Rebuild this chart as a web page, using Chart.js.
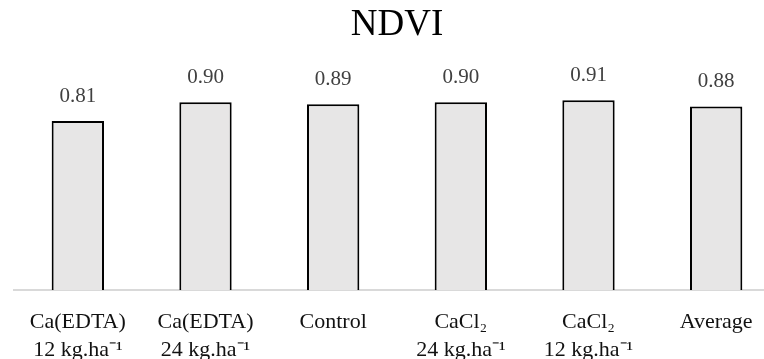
<!DOCTYPE html>
<html>
<head>
<meta charset="utf-8">
<script src="https://cdn.jsdelivr.net/npm/chart.js@4/dist/chart.umd.min.js"></script>
<style>
    html, body { margin: 0; padding: 0; background: #fff; overflow: hidden; }
    #wrap { width: 764px; height: 359px; overflow: hidden; }
    canvas { display: block; }
</style>
</head>
<body>
<div id="wrap">
    <canvas id="ndviChart" width="794" height="382"></canvas>
</div>
<script>
// chart data
const chartTitle = 'NDVI';
const categories = [
    ['Ca(EDTA)', '12 kg.ha\u207B\u00B9'],
    ['Ca(EDTA)', '24 kg.ha\u207B\u00B9'],
    'Control',
    ['CaCl\u2082', '24 kg.ha\u207B\u00B9'],
    ['CaCl\u2082', '12 kg.ha\u207B\u00B9'],
    'Average'
];
const ndviValues = [0.81, 0.90, 0.89, 0.90, 0.91, 0.88];
const yRange = [0, 1];

const serif = "'Liberation Serif', 'Times New Roman', serif";

// draws the value above each bar
const valueLabels = {
    id: 'valueLabels',
    afterDatasetsDraw: function( chart ) {
        const ctx = chart.ctx;
        const meta = chart.getDatasetMeta(0);
        const values = chart.data.datasets[0].data;

        ctx.save();
        ctx.font = '21px ' + serif;
        ctx.fillStyle = '#404040';
        ctx.textAlign = 'center';
        ctx.textBaseline = 'alphabetic';
        meta.data.forEach( function( bar, i ) {
            ctx.fillText( values[i].toFixed(2), bar.x, bar.y - 19 );
        });
        ctx.restore();
    }
};

const ctx = document.getElementById('ndviChart').getContext('2d');
const ndviChart = new Chart(ctx, {
    type: 'bar',
    data: {
        labels: categories,
        datasets: [{
            data: ndviValues,
            backgroundColor: '#e7e6e6',
            borderColor: '#000000',
            borderWidth: 2,
            borderSkipped: 'bottom',
            barPercentage: 0.41,
            categoryPercentage: 1
        }]
    },
    options: {
        responsive: false,
        animation: false,
        layout: {
            padding: { left: 14, right: 14, top: 0, bottom: 0 }
        },
        plugins: {
            legend: { display: false },
            tooltip: { enabled: false },
            title: {
                display: true,
                text: chartTitle,
                color: '#000000',
                font: { family: serif, size: 37, weight: 'normal', lineHeight: 1.2 },
                padding: { top: 3, bottom: 34 }
            }
        },
        scales: {
            x: {
                grid: { display: false, drawTicks: false },
                border: { display: true, color: '#d9d9d9', width: 2 },
                ticks: {
                    color: '#111111',
                    font: { family: serif, size: 22, lineHeight: 1.27 },
                    padding: 18,
                    maxRotation: 0,
                    autoSkip: false
                }
            },
            y: {
                display: false,
                min: yRange[0],
                max: yRange[1]
            }
        }
    },
    plugins: [valueLabels]
});
</script>
</body>
</html>
